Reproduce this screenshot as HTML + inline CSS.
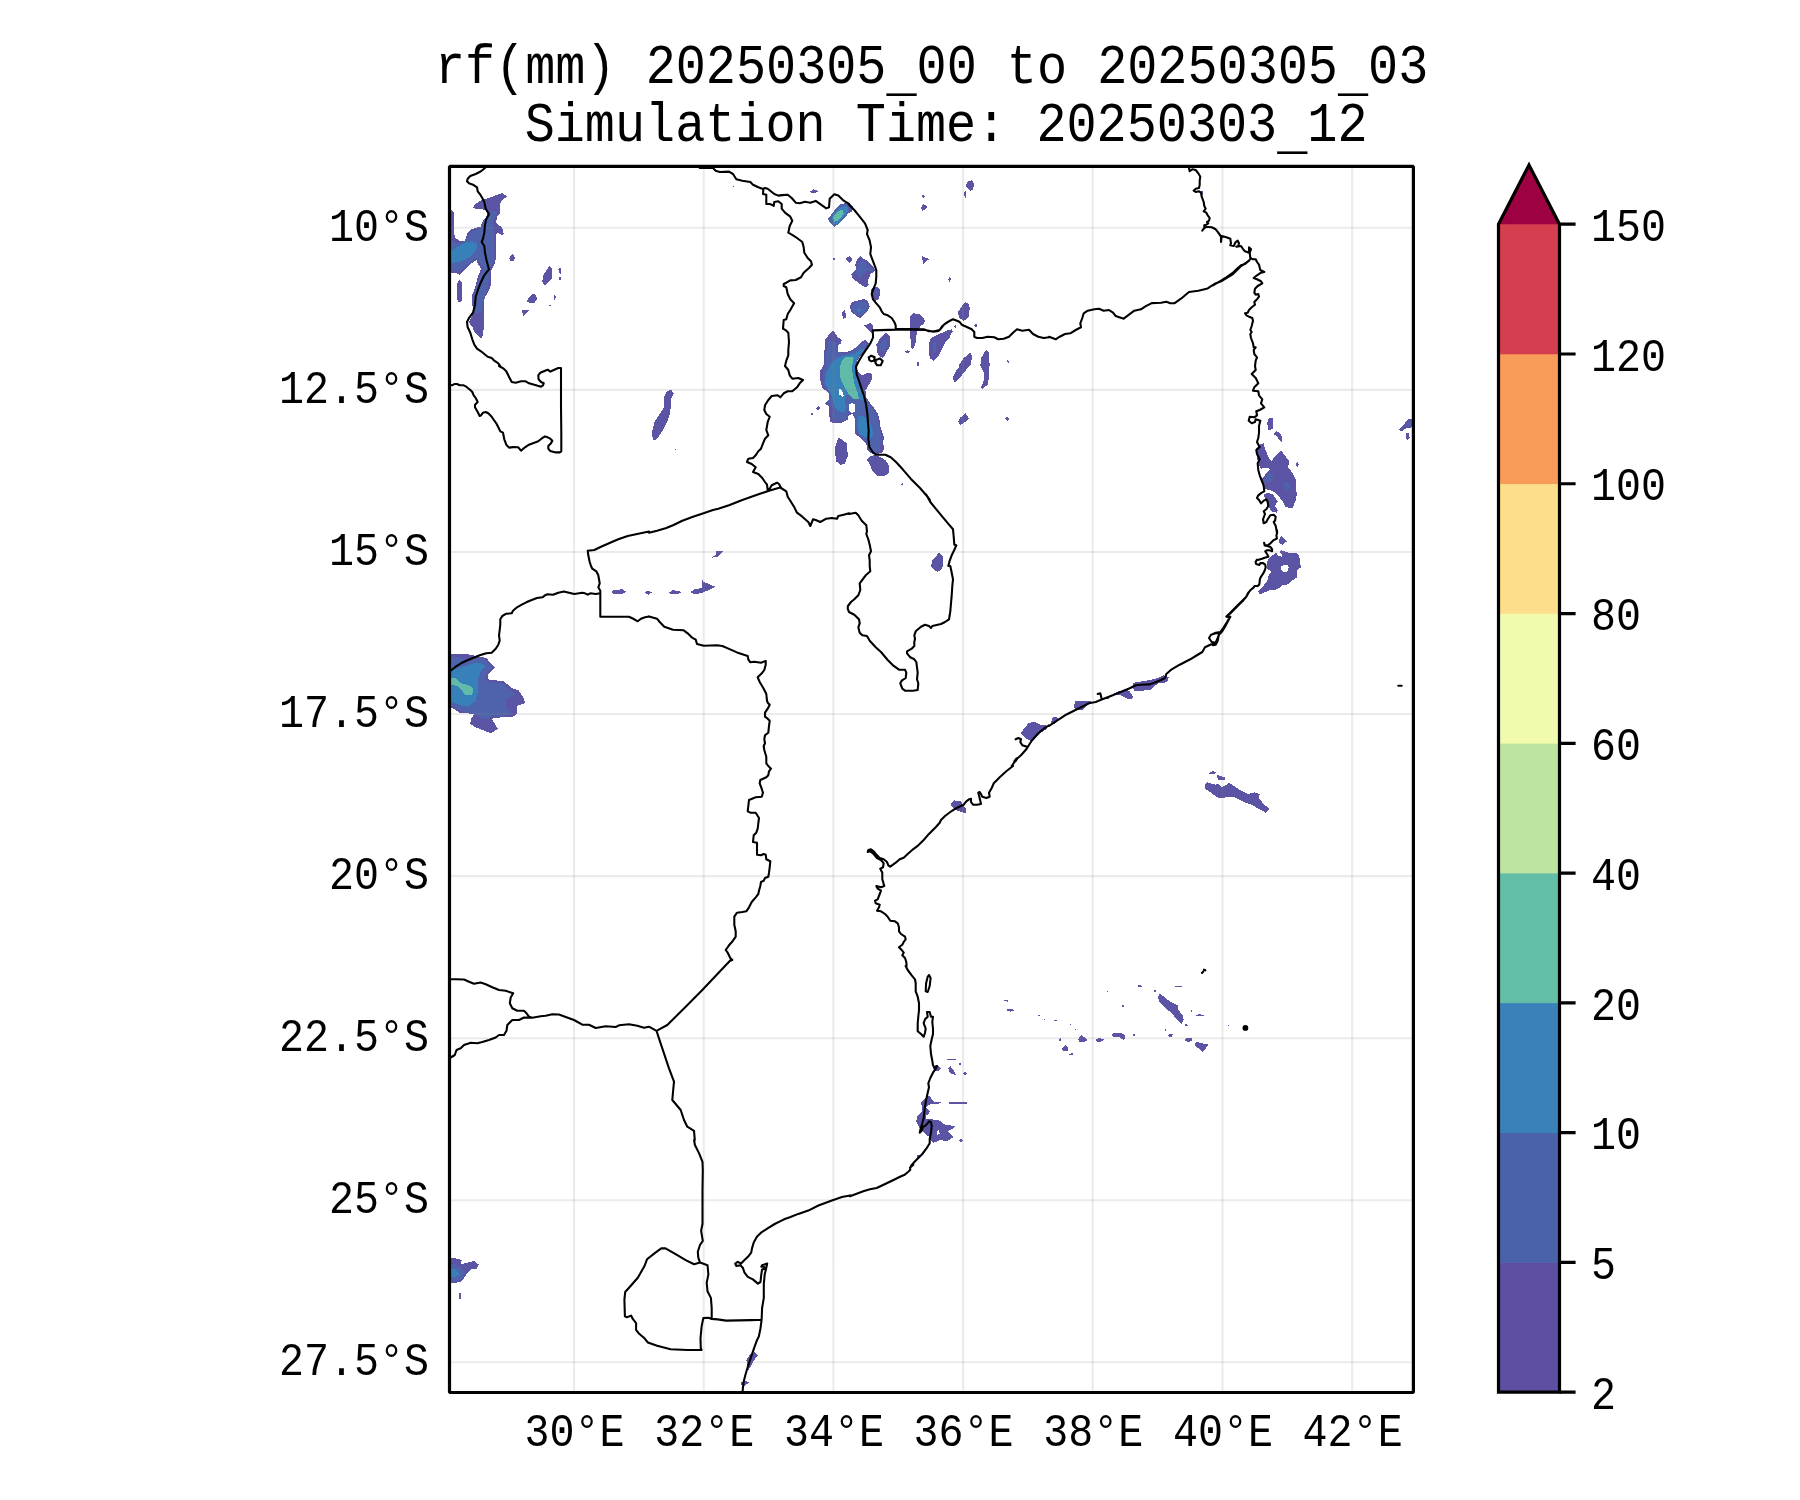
<!DOCTYPE html>
<html><head><meta charset="utf-8"><style>html,body{margin:0;padding:0;background:#fff}svg{display:block}</style></head>
<body><svg width="1800" height="1500" viewBox="0 0 1800 1500">
<rect width="1800" height="1500" fill="#fff"/>
<defs><clipPath id="mc"><rect x="449.5" y="166.4" width="963.9000000000001" height="1226.1"/></clipPath></defs><g clip-path="url(#mc)"><path d="M451.0 210.0 453.7 212.7 453.7 232.7 455.7 238.0 459.7 240.7 465.0 240.7 467.0 234.0 470.3 230.0 475.7 227.6 481.0 227.3 481.7 222.7 484.3 219.3 487.0 216.0 486.3 210.0 482.3 209.3 475.7 209.3 473.0 207.3 475.7 204.0 481.0 200.4 489.0 198.0 497.0 194.7 502.3 193.1 507.0 196.4 501.0 200.9 499.7 206.0 499.7 213.3 496.7 216.7 496.3 223.3 502.3 227.6 503.7 234.0 501.7 235.1 497.0 232.7 495.7 235.3 495.7 259.3 494.1 265.3 490.6 271.3 490.6 286.0 487.7 292.7 484.7 297.3 483.9 306.0 483.9 326.0 483.0 334.7 481.4 338.7 477.7 335.3 473.7 330.7 472.3 326.7 468.7 322.3 471.7 316.7 472.7 312.7 472.3 299.3 471.7 295.3 474.3 290.0 476.3 283.3 477.7 276.7 480.3 271.3 481.0 268.7 478.3 264.7 476.3 260.0 471.7 263.3 466.3 268.7 462.3 272.0 459.7 275.3 457.0 273.3 449.0 272.7 449.0 210.0ZM509.3 258.0 512.3 254.0 515.7 258.0 513.0 261.3 510.3 260.7ZM543.0 275.3 545.7 271.3 549.7 265.3 551.7 268.7 551.7 279.3 547.7 283.3 544.3 285.3 542.3 282.0ZM558.3 268.7 560.7 268.0 560.7 274.0 559.1 272.7ZM559.0 276.7 560.7 277.3 560.7 280.0 559.4 279.6ZM527.0 300.7 529.0 297.3 533.0 293.3 536.3 295.3 536.7 299.3 534.3 303.3 530.3 303.3 527.7 302.0ZM554.1 294.3 555.7 296.0 555.4 299.3 554.3 300.7ZM548.3 305.3 549.7 304.4 551.0 305.6 549.7 306.7ZM522.1 310.3 529.0 310.3 523.0 316.7ZM457.0 283.3 459.7 280.0 462.3 283.3 462.3 299.3 460.3 302.7 457.7 302.0 457.0 294.0ZM810.3 191.3 813.7 189.3 818.3 191.1 814.3 193.3 811.0 192.7ZM833.0 258.3 834.6 258.3 834.6 259.6 833.0 259.6ZM846.1 258.7 849.0 257.3 849.0 261.7 847.7 260.9ZM842.3 312.7 843.9 310.0 845.7 314.0 845.3 318.0 843.0 318.7ZM732.7 185.9 733.8 185.9 733.8 186.9 732.7 186.9ZM910.7 317.3 913.3 313.3 920.0 314.0 924.7 320.0 923.3 324.7 917.3 326.7 916.0 334.7 914.7 345.3 912.7 349.3 910.7 344.0 910.0 326.7ZM905.3 351.3 907.3 350.0 909.6 351.7 907.7 353.6ZM916.9 362.0 918.7 362.0 918.7 366.0 916.9 366.0ZM930.0 342.7 932.0 337.3 937.3 334.7 944.0 332.0 950.0 329.3 950.0 337.3 945.3 342.7 941.3 350.7 938.7 356.0 934.7 360.0 931.3 358.7 929.3 353.3ZM810.9 413.6 812.7 412.4 813.6 414.0 811.7 414.9ZM965.7 185.3 968.3 180.7 972.3 180.4 974.1 184.7 973.0 189.3 970.3 190.7 967.0 188.0ZM964.3 192.7 966.1 190.7 966.3 198.0 964.7 198.7ZM922.1 195.6 923.7 194.7 925.0 196.7 923.0 198.0ZM921.0 207.3 923.7 204.0 927.7 206.7 925.0 210.0 922.3 210.7ZM849.0 203.3 853.0 206.0 852.3 212.0 849.0 212.7ZM922.1 256.0 929.0 259.1 923.0 264.0ZM948.3 279.3 949.7 276.7 951.0 279.3 949.7 282.0ZM910.3 316.7 913.0 313.3 919.7 314.7 924.3 318.7 925.0 322.0 921.0 325.3 917.0 331.3 915.7 342.0 913.0 349.3 911.0 347.3 910.3 332.7ZM876.3 344.7 880.3 338.0 885.7 332.7 889.7 336.7 889.0 347.3 886.3 352.7 882.3 358.0 879.0 355.3 877.0 350.0ZM905.0 351.3 907.7 350.0 909.7 351.6 907.4 353.3ZM929.7 339.3 934.3 336.7 942.3 332.7 951.7 329.3 953.0 331.3 946.3 340.7 942.3 348.7 937.0 356.7 933.7 360.7 929.7 358.0 929.0 350.0ZM957.7 312.7 961.0 307.3 965.0 302.0 969.0 304.0 969.7 308.7 968.3 318.0 963.7 320.7 959.7 318.0ZM954.3 326.0 955.7 324.7 955.9 327.6 954.6 328.0ZM974.3 325.3 975.9 323.3 977.7 326.0 975.9 328.0ZM958.3 366.0 963.7 358.0 970.3 352.7 972.3 356.7 970.3 366.0ZM980.3 366.0 981.0 358.0 986.3 349.3 989.0 352.7 989.7 366.0ZM1006.3 362.0 1007.7 359.3 1009.0 362.7ZM917.0 362.0 919.0 362.0 919.0 366.0 917.0 366.0ZM1201.0 191.3 1202.6 191.3 1202.6 194.7 1201.0 194.7ZM651.7 434.0 654.3 422.0 659.7 414.0 664.3 407.3 664.3 396.7 667.0 391.3 671.0 389.3 673.7 393.3 671.0 399.3 670.3 412.7 667.0 422.0 662.3 431.3 657.0 438.7 653.7 440.7ZM675.0 448.9 676.3 448.9 676.3 450.0 675.0 450.0ZM716.3 551.1 723.0 551.3 719.7 555.3 717.0 556.9 712.3 557.7 712.7 556.4 716.3 554.7ZM952.3 378.0 955.7 371.3 959.7 366.0 969.0 366.0 965.0 371.3 959.7 378.0 955.0 382.7ZM981.0 366.0 989.0 366.0 988.7 379.3 987.7 384.7 985.0 386.7 983.0 388.7 980.3 388.0 982.3 384.7 984.3 379.3 983.7 372.7 981.7 368.7ZM958.3 422.0 959.7 418.0 965.7 413.3 969.0 418.7 965.0 422.0 960.3 425.3ZM1005.0 418.7 1007.0 416.0 1009.0 419.1 1007.4 421.3ZM901.0 484.7 902.6 482.8 903.0 485.7ZM931.0 566.0 932.3 560.7 939.0 552.7 943.0 556.0 943.0 566.0ZM1267.4 422.0 1269.0 418.0 1272.7 418.3 1273.3 428.0 1270.3 430.0 1267.7 429.3ZM1273.7 434.0 1276.3 431.3 1280.3 433.3 1282.3 438.0 1282.3 443.3 1279.7 440.0 1277.0 436.7ZM1255.7 449.3 1259.0 444.7 1263.7 443.3 1265.0 448.7 1268.3 456.7 1271.0 461.3 1275.0 456.7 1281.0 450.0 1283.7 454.0 1289.0 460.7 1288.3 467.3 1293.0 474.0 1295.7 479.3 1295.7 486.0 1296.7 494.0 1296.3 499.3 1293.7 504.7 1293.0 508.0 1285.7 507.3 1282.3 500.7 1279.0 496.7 1275.0 492.7 1270.3 490.0 1265.7 489.3 1263.7 486.0 1262.3 478.7 1266.3 473.3 1270.3 468.7 1265.7 468.0 1261.0 468.7 1259.0 464.7 1257.0 458.0 1257.0 452.7ZM1295.9 463.3 1297.3 461.7 1299.0 464.7 1297.0 467.3ZM1263.7 494.7 1268.3 492.7 1273.0 494.7 1277.7 501.3 1275.0 506.0 1277.7 510.0 1277.0 512.7 1271.7 511.3 1269.0 507.3 1268.3 503.3 1265.7 500.0ZM1399.0 430.0 1403.7 424.7 1407.7 419.3 1413.0 419.3 1413.0 427.3 1406.3 428.0 1402.3 431.3ZM1405.7 434.0 1408.3 432.0 1409.7 438.0 1407.7 440.0 1406.1 438.7ZM611.0 592.0 614.3 590.0 622.3 589.3 625.7 591.6 622.3 594.3 614.3 594.3ZM644.3 592.0 649.0 590.7 649.0 594.7 646.3 594.0ZM449.0 654.0 466.3 654.0 486.3 658.0 495.0 668.0 487.7 675.3 487.7 679.3 503.7 681.3 513.0 688.7 518.3 690.0 523.7 698.0 525.0 703.3 517.0 706.0 517.0 714.0 513.0 716.7 501.0 717.3 491.7 718.7 497.7 728.7 493.0 732.4 489.0 732.7 475.7 727.3 470.3 724.0 471.0 718.7 474.3 714.0 459.7 712.7 449.0 706.0ZM649.0 591.3 652.3 592.4 649.0 594.0ZM669.0 592.7 672.3 590.3 677.7 590.7 681.7 592.0 677.7 594.0 670.3 594.3ZM690.3 592.0 694.3 589.3 701.7 588.0 702.3 579.3 703.7 582.0 707.7 583.3 715.0 586.7 709.0 590.0 702.3 592.7 697.0 594.0 691.7 593.3ZM931.0 566.0 943.0 566.0 941.7 569.3 937.7 572.0 933.7 569.3ZM1020.3 733.3 1028.3 723.3 1033.7 721.7 1041.0 724.9 1046.3 725.3 1047.7 728.0 1041.0 732.7 1035.7 738.0 1030.3 740.7 1025.0 738.0ZM1051.0 722.0 1053.0 716.7 1056.3 716.7 1058.3 719.3 1055.7 723.3 1051.7 724.7ZM1073.7 708.0 1075.0 701.3 1081.0 701.3 1089.0 700.7 1093.7 702.7 1089.0 704.0 1085.7 707.3 1082.3 710.0 1077.0 710.0ZM1103.7 698.0 1107.7 696.7 1109.0 698.7 1105.0 699.3ZM1113.0 694.0 1118.3 691.3 1123.7 690.0 1129.0 690.7 1131.7 694.0 1133.7 698.0 1129.0 699.3 1125.0 697.3 1121.0 695.3ZM1132.3 686.0 1133.7 682.7 1142.3 681.3 1153.0 679.3 1158.3 678.0 1163.7 675.3 1169.0 677.3 1167.0 682.0 1163.7 682.7 1158.3 683.3 1154.3 686.0 1150.3 690.0 1142.3 690.7 1134.3 691.3ZM1279.1 539.6 1281.5 535.9 1286.8 541.5 1282.0 544.9 1279.1 542.3ZM1258.0 591.9 1264.1 584.9 1267.3 581.2 1268.1 576.4 1271.6 571.6 1267.3 568.9 1266.8 564.1 1267.3 560.9 1270.5 557.2 1275.9 552.4 1278.5 556.1 1281.7 556.7 1282.0 554.5 1279.6 551.3 1281.2 550.3 1288.7 552.9 1296.7 553.5 1299.3 556.1 1299.9 562.0 1300.9 567.3 1297.2 570.5 1296.7 575.3 1297.7 576.9 1294.0 579.1 1287.6 584.4 1282.3 585.5 1278.0 588.7 1275.9 589.7 1270.0 590.3 1264.7 592.4 1260.4 594.5ZM950.3 804.0 954.3 800.4 961.0 801.3 963.0 804.7 966.3 808.7 965.7 813.3 961.7 812.0 955.7 810.0 952.3 807.3ZM1205.0 784.0 1207.0 782.0 1211.7 784.0 1215.7 784.7 1218.3 784.0 1221.7 787.3 1225.7 785.3 1229.0 782.9 1234.3 786.0 1241.0 790.7 1247.7 794.0 1254.3 792.3 1259.7 794.0 1259.0 798.7 1265.0 805.3 1269.7 808.7 1265.7 812.7 1259.7 809.3 1250.3 804.0 1245.0 802.7 1239.7 800.0 1234.3 797.3 1229.0 797.1 1223.7 797.6 1217.7 797.6 1211.7 793.3 1205.0 788.7ZM1209.0 773.3 1213.0 770.9 1216.3 772.7 1213.7 774.4 1210.3 774.4ZM1217.0 774.7 1221.0 776.0 1225.0 777.7 1225.0 779.7 1217.7 779.7ZM1003.7 1000.0 1008.3 1000.4 1007.7 1001.7 1003.9 1000.9ZM1006.3 1010.0 1008.3 1008.7 1012.3 1008.9 1013.7 1010.7 1011.0 1011.6 1007.7 1011.3ZM1038.1 1015.1 1039.9 1015.1 1039.9 1016.1 1038.1 1016.1ZM1043.7 1019.3 1045.7 1019.6 1045.0 1020.9ZM947.0 1058.7 955.7 1058.7 955.7 1060.0 950.3 1060.1 947.7 1059.9ZM959.0 1063.3 960.7 1063.3 960.7 1064.9 959.0 1064.9ZM948.3 1068.7 950.3 1066.0 954.3 1071.3 955.7 1074.7 951.7 1074.3 949.0 1071.3ZM963.0 1073.7 965.0 1072.0 967.0 1074.0 965.3 1075.6ZM933.0 1067.3 937.0 1064.7 941.0 1068.7 938.3 1070.7 934.3 1071.3ZM921.0 1102.0 925.0 1098.0 929.0 1095.3 933.0 1100.7 934.3 1102.0 941.0 1102.0 941.0 1103.3 934.3 1104.0 929.0 1104.7 926.3 1107.3 929.7 1111.3 929.0 1114.0 925.7 1115.3 926.3 1119.3 931.7 1119.3 939.7 1120.7 945.0 1124.7 955.0 1126.0 954.3 1128.0 947.7 1131.3 950.3 1134.0 953.7 1136.7 950.3 1139.3 947.0 1141.3 943.7 1140.7 941.0 1139.3 937.0 1141.3 933.7 1142.7 931.0 1140.7 929.0 1136.7 923.7 1132.7 919.7 1128.7 916.3 1122.0 917.0 1116.7 919.7 1114.0 922.3 1111.3 921.7 1106.0ZM949.0 1102.0 967.0 1102.0 967.0 1104.0 949.0 1104.0ZM959.0 1140.0 961.0 1139.1 963.7 1140.9 960.3 1142.0ZM917.0 1155.3 919.4 1154.7 919.7 1157.7 917.3 1158.0ZM1054.2 1020.0 1056.7 1020.0 1056.7 1021.0 1054.2 1021.0ZM1070.0 1024.2 1071.7 1024.7 1071.3 1025.8ZM1075.0 1029.3 1076.7 1029.7 1076.3 1031.0ZM1059.2 1038.7 1060.8 1038.3 1060.7 1040.8 1059.3 1040.7ZM1061.7 1049.2 1065.8 1044.2 1068.0 1048.3 1067.5 1051.3 1063.3 1050.8ZM1069.2 1053.7 1072.5 1053.3 1072.5 1055.3 1069.7 1055.3ZM1078.0 1039.2 1081.3 1035.3 1085.0 1037.5 1088.0 1040.0 1085.0 1041.7 1079.2 1041.7ZM1095.3 1040.0 1098.3 1038.3 1103.3 1038.7 1104.0 1040.3 1100.0 1041.7 1096.7 1041.7ZM1111.0 1035.0 1113.3 1033.0 1121.7 1033.3 1125.0 1035.0 1124.2 1040.8 1120.0 1037.5 1113.3 1037.0ZM1133.0 1034.2 1135.0 1034.2 1135.0 1035.8 1133.0 1035.8ZM1106.7 990.8 1108.3 990.8 1108.3 991.8 1106.7 991.8ZM1121.7 1005.0 1124.0 1005.0 1124.0 1006.8 1121.7 1006.8ZM1138.0 985.5 1140.3 985.0 1142.0 986.7 1138.3 986.7ZM1154.2 990.0 1156.0 990.0 1156.0 991.7 1154.2 991.7ZM1175.0 985.8 1182.0 985.8 1182.0 986.8 1175.0 986.8ZM1158.0 996.7 1160.0 993.3 1166.7 999.2 1173.3 1003.3 1177.5 1005.0 1178.3 1010.0 1182.5 1015.0 1183.7 1020.0 1181.7 1023.7 1176.7 1019.2 1171.7 1013.3 1165.0 1007.5 1159.2 1001.7ZM1184.2 1025.0 1186.3 1023.8 1188.3 1025.8 1185.3 1026.3ZM1190.8 1009.2 1192.5 1010.0 1192.3 1012.0 1191.0 1011.3ZM1195.8 1015.3 1199.2 1014.2 1204.7 1015.0 1203.3 1016.3 1197.5 1016.3ZM1165.0 1029.3 1166.2 1029.3 1166.2 1031.0 1165.0 1031.0ZM1168.0 1035.0 1170.0 1033.3 1173.0 1034.7 1171.7 1036.7 1169.0 1036.7ZM1184.2 1040.0 1186.7 1037.5 1191.7 1038.3 1193.0 1040.3 1189.2 1041.7 1185.0 1041.3ZM1194.2 1045.0 1196.7 1042.0 1201.7 1043.3 1208.7 1044.2 1205.8 1048.3 1202.5 1051.7 1198.3 1048.3ZM1228.0 1024.3 1229.7 1025.0 1228.7 1026.0ZM746.2 1360.1 750.4 1354.2 754.6 1352.0 757.9 1355.1 752.9 1361.8 749.5 1368.5 749.2 1373.5 747.8 1366.8 747.0 1363.5ZM740.3 1382.8 744.5 1380.6 749.5 1382.8 744.5 1385.6 741.1 1385.3ZM917.0 1155.3 919.7 1155.2 918.7 1158.0 917.2 1157.7ZM449.0 1257.6 455.7 1258.4 461.6 1260.1 460.8 1264.3 467.5 1262.6 474.2 1261.0 478.9 1264.7 476.7 1268.5 470.8 1269.4 467.5 1272.7 464.1 1277.8 460.8 1282.0 454.0 1282.8 449.0 1282.8ZM459.1 1293.2 460.8 1293.2 460.8 1298.8 459.1 1298.8ZM833.2 330.5 837.4 336.5 841.6 340.3 841.1 343.1 837.9 345.9 837.9 351.9 847.7 351.9 854.2 348.7 859.8 344.0 864.9 339.3 868.7 343.1 867.3 347.7 863.5 352.4 859.8 357.1 857.0 360.8 856.1 367.3 857.9 371.1 861.7 375.7 867.3 372.9 871.0 372.5 872.4 376.7 871.0 381.3 868.2 386.0 865.4 390.7 866.3 397.2 869.1 401.9 872.9 406.5 877.5 413.1 879.4 418.7 880.3 426.1 882.2 432.7 884.1 437.4 883.1 442.0 884.1 448.6 882.2 452.3 880.3 453.2 875.7 454.2 871.0 453.2 867.3 449.5 866.3 443.9 859.8 437.4 855.1 433.6 855.1 425.2 855.1 418.7 852.3 414.0 848.6 415.9 847.7 419.6 843.0 422.4 833.7 423.3 829.9 421.5 829.0 412.1 829.0 406.5 825.3 403.7 829.0 399.1 829.0 393.5 822.5 387.9 820.6 383.2 820.1 371.1 824.3 363.6 824.3 353.3 825.3 339.3 829.9 333.7ZM877.1 346.8 880.3 341.2 885.9 332.8 889.7 336.5 889.7 346.8 886.9 351.5 884.1 357.1 880.3 357.1 877.5 353.3ZM835.1 447.6 838.3 437.4 843.0 440.2 847.2 443.9 847.7 456.0 844.9 463.5 840.2 464.9 836.5 461.6 835.1 454.2ZM866.3 459.8 870.1 456.0 874.7 455.1 880.3 457.0 885.9 460.7 888.7 465.4 888.7 470.0 874.7 470.0 871.0 465.4ZM815.9 408.4 818.3 406.1 820.6 408.4 818.3 410.7ZM851.3 274.3 856.0 269.3 855.3 264.7 857.3 259.3 860.3 256.0 864.0 259.0 866.7 260.0 870.7 264.0 873.3 266.7 875.3 270.0 873.3 272.0 870.7 274.0 869.3 277.3 868.0 280.0 868.7 285.3 865.3 287.3 860.0 284.0 854.7 280.0 852.0 277.3ZM871.3 289.3 874.0 286.7 876.7 286.7 879.7 289.3 879.7 295.3 878.7 298.7 876.0 300.7 873.3 300.0 871.7 295.3ZM850.0 305.3 852.7 302.0 856.7 300.7 860.0 300.0 864.7 299.0 868.0 301.3 869.7 306.0 868.0 310.7 864.0 314.7 860.0 318.7 856.0 315.3 851.3 312.0 850.3 308.7ZM846.0 258.7 849.3 256.0 852.0 258.0 851.7 260.7 849.3 262.7 846.7 260.0ZM842.0 315.3 843.3 311.3 844.7 310.0 846.0 314.7 845.7 318.0 843.7 318.7ZM833.0 258.3 835.0 258.3 835.0 259.9 833.0 259.9ZM864.0 325.7 870.0 323.0 872.7 325.3 873.0 329.3 871.7 333.3 868.0 329.3ZM870.0 465.0 889.0 465.0 889.0 473.0 884.0 476.5 877.0 476.0 872.0 470.0Z" fill="#5b53a4" shape-rendering="crispEdges"/><path d="M1280.9 566.8 1283.3 564.9 1287.6 565.2 1288.9 567.3 1287.1 571.6 1283.3 571.9 1281.2 569.5ZM937.0 1130.7 939.0 1130.3 939.7 1134.3 937.3 1134.7Z" fill="#fff" shape-rendering="crispEdges"/><path d="M449.0 238.7 457.0 243.3 463.7 242.0 467.7 236.7 471.7 231.3 481.0 228.7 483.7 222.0 487.0 215.3 489.7 211.3 495.0 210.7 497.0 212.7 495.0 217.3 493.0 222.0 493.7 228.7 493.7 246.0 493.7 259.3 491.7 266.0 489.0 271.3 488.3 286.0 485.7 294.0 483.0 299.3 482.3 307.3 481.7 312.7 475.7 314.0 473.7 310.0 474.3 299.3 475.7 292.7 477.7 283.3 479.7 276.7 482.3 272.7 484.3 268.7 481.0 264.7 477.7 259.3 475.7 258.0 470.3 263.3 465.0 267.3 459.7 271.3 449.0 270.0ZM828.3 218.7 835.7 208.7 839.7 204.7 845.0 203.1 849.0 204.7 849.0 212.7 842.3 220.7 834.3 227.3 829.0 222.0ZM933.3 344.7 935.3 344.0 936.0 349.3 934.0 350.7ZM879.7 344.7 882.3 340.7 886.3 339.3 887.0 346.0 884.3 351.3 881.0 351.3ZM932.3 343.3 935.7 342.0 936.3 351.3 933.0 354.0ZM1264.3 480.7 1269.0 472.7 1273.7 475.3 1271.7 482.0 1267.0 482.7ZM1283.0 484.7 1287.0 481.3 1290.3 486.0 1288.3 490.7 1285.0 491.3ZM1408.3 422.7 1412.3 422.0 1412.3 426.0 1409.0 426.0ZM449.0 658.0 457.0 656.7 465.0 659.3 483.7 658.0 491.7 666.7 487.0 672.7 485.0 679.3 489.0 682.0 502.3 683.3 511.7 691.3 515.7 694.0 506.3 699.3 506.3 707.3 511.7 714.0 499.7 716.7 491.7 716.0 485.0 719.3 479.7 718.0 475.7 714.0 462.3 711.3 449.0 704.7ZM1289.2 556.4 1292.9 556.1 1292.9 557.7 1289.2 557.7ZM449.0 1263.5 455.7 1264.3 460.8 1267.7 465.0 1272.7 461.6 1279.4 454.0 1281.1 449.0 1282.0ZM829.0 340.3 835.5 342.1 837.4 351.5 841.1 353.3 845.8 354.3 852.3 351.5 859.8 345.9 865.4 342.1 867.3 344.9 864.5 348.7 860.7 354.3 857.0 358.9 855.1 362.7 855.1 369.2 857.9 374.8 859.8 380.4 861.7 387.9 865.4 395.3 867.3 400.9 871.0 406.5 874.7 412.1 877.5 418.7 879.4 428.0 881.3 437.4 880.3 444.8 880.3 450.4 875.7 452.3 871.0 451.4 868.2 446.7 866.3 442.0 858.9 434.6 856.1 428.9 856.1 419.6 854.2 414.0 850.5 412.1 847.7 414.0 845.8 418.7 843.0 420.5 835.5 421.0 832.7 419.6 831.8 414.0 833.7 410.3 829.9 404.7 828.1 400.9 831.3 395.3 829.9 390.7 824.3 386.0 822.5 381.3 822.5 372.0 825.3 365.5 826.2 353.3 828.1 344.0ZM879.4 346.8 882.2 344.0 885.0 345.9 884.1 350.5 881.3 351.5ZM869.1 458.8 871.0 457.7 872.9 459.3 871.0 460.7ZM856.0 271.3 857.3 265.3 860.0 260.7 864.0 261.3 866.7 264.0 866.7 268.0 870.7 268.0 874.0 269.3 872.7 271.3 866.7 270.7 864.0 274.0 861.3 278.0 859.3 278.7 856.7 275.3ZM875.3 290.7 876.7 290.3 877.2 295.3 875.7 295.7ZM852.0 306.7 855.3 302.7 861.3 301.3 866.7 302.7 868.0 306.0 866.0 310.7 861.3 314.7 858.7 316.0 853.3 312.0Z" fill="#4e63ac" shape-rendering="crispEdges"/><path d="M849.1 404.7 852.3 402.8 855.1 404.7 855.1 411.2 852.3 413.1 849.5 411.2Z" fill="#fff" shape-rendering="crispEdges"/><path d="M449.0 252.7 454.3 248.7 461.0 244.7 467.7 242.0 473.0 241.3 477.0 244.7 476.3 250.0 471.7 255.3 466.3 259.3 459.7 262.0 453.0 262.7 449.0 262.0ZM831.7 216.7 838.3 208.7 845.0 206.0 848.3 207.3 848.3 211.3 838.3 223.3 833.7 224.7ZM449.0 671.3 461.0 667.3 469.0 664.7 475.7 662.7 483.7 664.0 485.0 667.3 481.0 670.0 479.7 675.3 477.7 680.7 477.7 692.7 475.7 700.7 469.0 706.0 462.3 706.0 455.7 703.3 449.0 700.7ZM449.0 1267.7 455.7 1269.4 459.9 1274.4 455.7 1276.9 449.0 1277.8ZM825.3 378.5 827.1 371.1 832.7 361.7 838.3 357.1 845.8 355.2 854.2 353.8 859.8 350.1 863.1 348.2 864.0 350.1 859.8 355.2 857.0 359.9 855.1 365.5 855.6 371.1 857.5 376.7 859.8 384.1 862.6 391.6 864.5 399.1 862.6 400.9 858.9 399.1 854.2 397.2 849.5 395.3 845.8 394.4 844.9 400.9 845.8 407.5 844.9 412.1 841.1 412.1 836.5 409.3 833.7 404.7 832.7 399.1 830.9 394.4 827.1 387.9 825.3 383.2ZM857.9 417.7 860.7 415.9 865.4 416.8 869.1 421.5 871.9 427.1 873.3 433.6 871.0 437.4 867.3 438.3 863.5 436.4 859.8 434.6 857.9 428.9 857.5 423.3ZM856.7 310.0 860.0 308.0 860.7 310.7 858.0 312.0Z" fill="#3880b9" shape-rendering="crispEdges"/><path d="M838.8 389.7 840.7 388.8 843.9 395.3 843.0 397.2 839.3 394.4Z" fill="#fff" shape-rendering="crispEdges"/><path d="M833.0 217.3 838.3 210.7 843.0 210.0 843.7 214.0 838.3 220.7 834.3 221.7ZM449.0 678.0 455.7 678.0 461.0 683.3 466.3 684.7 471.0 686.0 473.7 690.0 471.7 694.7 465.0 695.3 462.3 690.7 457.0 686.0 453.0 684.7 449.0 686.0ZM840.2 365.5 842.1 359.9 846.7 356.6 852.3 356.6 853.7 358.0 852.3 365.5 852.3 372.0 853.3 378.5 855.1 386.0 857.9 393.5 858.9 398.6 853.3 398.6 849.5 395.3 846.7 390.7 843.0 384.1 840.2 377.6Z" fill="#60bba8" shape-rendering="crispEdges"/><path d="M574.05 166.4V1392.5M703.73 166.4V1392.5M833.41 166.4V1392.5M963.09 166.4V1392.5M1092.77 166.4V1392.5M1222.45 166.4V1392.5M1352.13 166.4V1392.5" stroke="#808080" stroke-opacity="0.16" stroke-width="2.08" fill="none"/><path d="M449.5 227.80H1413.4M449.5 389.88H1413.4M449.5 551.95H1413.4M449.5 714.02H1413.4M449.5 876.10H1413.4M449.5 1038.17H1413.4M449.5 1200.25H1413.4M449.5 1362.32H1413.4" stroke="#808080" stroke-opacity="0.16" stroke-width="2.08" fill="none"/><path d="M485.0 168.0 481.0 171.3 475.7 174.0 470.3 176.0 467.7 178.7 467.0 181.3 469.0 183.3 473.0 184.7 477.0 187.3 477.7 191.3 480.3 194.7 482.3 198.0 484.3 202.0 485.7 208.7 489.0 214.0 486.3 219.3 485.0 224.7 484.3 232.7 483.0 238.7 481.7 242.0 484.3 246.0 485.0 252.7 486.3 259.3 487.7 264.7 489.0 269.3 486.3 272.7 484.3 275.3 481.0 282.0 478.3 288.7 475.7 296.7 475.0 304.7 473.0 312.7 469.0 318.0 467.0 322.0 467.7 327.3 470.3 332.7 472.3 339.3 474.3 344.7 477.0 348.7 481.0 351.3 484.3 354.0 487.7 356.7 491.7 358.0 494.3 360.7 498.3 363.3 500.3 366.0M699.7 168.0 703.7 167.6 713.0 168.0 715.7 170.7 719.7 172.0 729.0 171.6 733.0 174.0 736.3 179.3 742.3 180.7 750.3 182.0 753.0 184.7 758.3 187.3 763.0 188.9 765.0 188.0 767.7 188.7 774.3 194.0 778.3 195.6 782.3 195.1 787.7 194.7 791.7 198.0 795.7 202.7 799.7 203.3 805.0 201.7 810.3 202.7 815.7 200.9 821.0 204.7 826.3 208.4 829.0 207.3 829.7 198.7 834.3 194.3 838.3 195.6 843.7 200.7 849.0 204.0M763.4 188.9 763.0 194.0 766.3 194.7 766.3 204.0 769.7 204.0 771.7 204.7 773.7 206.0 774.3 202.0 778.3 201.3 781.7 204.0 781.7 208.7 785.0 212.7 790.3 216.7 792.3 220.7 789.7 226.0 788.3 232.7 793.0 235.3 797.0 238.0 802.3 242.0 803.7 247.3 804.3 252.7 807.7 258.0 811.0 261.3 811.9 264.7 809.0 268.0 803.7 272.7 801.0 277.3 795.7 280.0 790.3 280.4 786.3 282.7 783.7 284.0 783.7 286.0 786.3 287.3 787.7 294.0 790.3 299.3 794.1 303.3 790.3 310.0 787.7 314.0 786.3 319.3 783.7 320.0 783.0 328.7 786.3 330.7 788.3 332.7 789.0 342.0 788.3 350.0 788.3 355.3 786.3 360.7 785.0 366.0M872.7 330.4 896.0 329.6 913.3 329.6 925.3 330.0 933.3 331.7 938.7 330.9 941.3 328.0 944.0 324.7 946.7 322.7 950.0 320.7M872.7 330.4 873.1 337.3 870.7 342.7 867.3 348.0 862.7 354.7 858.7 361.3 856.0 366.7 856.7 374.7 858.7 380.0 861.3 388.0 864.0 396.0 866.0 404.0 867.3 413.3 868.0 422.7 868.7 430.7 868.3 438.7 869.3 446.7 872.7 452.0 876.0 454.7 885.3 454.7 890.7 457.3 896.0 462.0 902.7 469.3 910.7 478.7 920.0 488.0 928.0 497.3 930.0 500.0M868.7 357.3 871.3 355.7 874.7 357.3 874.0 360.7 871.3 361.3 869.3 360.0 868.7 357.3M876.0 360.0 880.0 358.4 882.7 361.1 880.7 365.3 877.1 365.3 875.3 362.7 876.0 360.0M849.0 204.7 854.3 210.0 859.7 216.7 865.0 223.3 867.7 230.0 867.0 234.0 869.7 240.7 871.0 247.3 870.3 254.0 872.3 259.3 874.3 264.7 876.3 270.0 876.3 276.7 875.7 283.3 873.0 290.0 871.7 294.0 873.0 299.3 876.3 303.3 879.7 307.3 881.7 311.3 883.7 314.0 887.7 315.3 891.7 318.0 894.3 322.0 895.7 325.3 895.7 328.9M895.7 328.9 923.7 329.3 929.0 331.3 934.3 331.3 939.7 330.0 942.3 326.0 945.0 324.0 949.0 321.3 953.0 319.3 957.0 320.7 959.7 322.0 961.7 324.7 966.3 326.7 971.7 329.3 974.3 332.0 974.3 336.7 977.0 338.0 982.3 338.0 987.7 336.7 994.3 337.3 998.3 339.3 1003.7 338.7 1009.0 336.7 1013.0 332.7 1017.0 329.3 1022.3 330.7 1029.0 329.7 1033.0 334.0 1038.3 336.7 1043.7 338.0 1049.0 337.3M1189.0 168.0 1189.7 171.3 1192.3 169.3 1195.7 170.0 1198.3 173.3 1200.3 176.7 1199.7 180.7 1199.7 184.7 1199.0 188.0 1195.7 188.7 1193.7 190.7 1195.7 192.0 1199.0 191.3 1201.0 192.7 1201.7 196.7 1203.7 202.0 1204.3 206.0 1205.7 208.7 1203.7 211.3 1206.3 212.7 1207.7 215.3 1209.7 218.0 1209.0 220.7 1207.0 222.0 1208.3 223.3 1206.3 224.7 1204.3 225.3 1204.3 228.0 1202.3 230.7 1203.7 228.7 1206.3 226.7 1211.7 227.3 1215.7 229.3 1218.3 232.7 1221.0 236.7 1221.0 242.0 1221.7 236.0 1226.3 237.3 1230.3 238.7 1231.0 243.3 1230.3 245.3 1233.7 246.0 1235.7 242.0 1237.7 240.7 1239.0 243.3 1238.3 246.0 1236.3 246.7 1241.0 246.0 1243.7 250.0 1245.0 251.3 1249.0 252.7M1049.0 336.7 1055.7 339.3 1059.7 336.7 1065.0 334.0 1070.3 333.3 1075.7 330.0 1081.0 327.3 1080.3 323.3 1082.3 318.0 1083.7 313.3 1087.7 310.7 1094.3 309.3 1099.0 308.7 1103.7 310.7 1109.0 310.0 1113.0 312.7 1115.7 316.0 1123.7 318.7 1129.0 314.7 1134.3 310.7 1141.0 309.3 1145.0 306.7 1151.7 303.1 1161.0 302.7 1166.3 301.7 1170.3 303.3 1174.3 303.3 1181.0 298.7 1189.0 292.0 1198.3 290.7 1207.7 288.4 1214.3 284.0 1222.3 280.7 1233.0 274.0 1238.3 268.7 1241.0 266.0 1246.3 262.7 1249.0 260.7M1249.0 252.0 1249.0 247.3 1251.0 249.3 1249.7 252.7 1250.3 258.0 1253.0 259.3 1255.7 259.3 1257.0 262.0 1259.0 264.7 1260.3 270.0 1264.3 272.0 1261.0 272.7 1257.0 275.3 1253.7 278.0 1257.0 279.3 1261.0 281.3 1262.3 283.3 1257.7 286.0 1255.0 288.7 1254.3 292.7 1255.7 294.7 1258.3 294.0 1259.0 296.7 1257.0 299.3 1254.3 302.0 1255.0 304.7 1251.7 307.3 1249.0 310.0 1247.7 312.7 1245.0 313.3 1246.3 315.3 1249.0 316.7 1252.3 318.0 1253.0 320.7 1251.7 326.0 1250.3 330.0 1251.7 332.0 1250.3 334.0 1251.0 338.0 1253.0 343.3 1253.7 347.3 1255.7 347.3 1253.7 350.0 1254.3 354.0 1257.0 357.3 1255.7 360.7 1255.0 366.0M1213.0 285.3 1221.0 280.7 1226.3 277.3 1233.0 272.7 1237.0 268.7 1241.0 265.3 1245.0 264.0 1249.0 260.7 1251.0 258.0M499.0 366.0 503.7 368.7 506.3 371.3 509.0 376.7 511.7 382.0 515.7 382.7 521.0 381.3 525.7 381.3 529.0 383.3 534.3 384.7 541.0 386.7 543.0 385.3 543.7 383.3 541.0 382.0 538.6 379.3 538.3 375.3 540.3 372.7 545.0 370.7 547.7 369.7 550.3 371.6 554.3 369.7 558.3 368.0 561.0 368.0 561.0 379.3 561.0 406.0 561.3 432.7 561.3 451.3 559.7 452.4 555.7 452.4 550.3 451.1 548.3 448.7 548.3 446.0 551.0 443.3 552.3 440.7 550.3 438.7 547.7 437.3 545.0 436.4 542.3 438.0 538.3 441.3 534.3 442.7 529.0 444.7 525.0 447.3 521.0 450.7 518.3 447.3 513.0 447.1 509.0 447.6 506.3 444.7 504.3 439.3 503.0 432.7 500.3 431.3 498.3 427.3 496.3 423.3 494.3 420.7 491.7 416.7 488.3 413.3 485.7 412.0 483.0 412.7 481.0 415.3 479.7 416.0 477.7 412.0 475.0 407.3 475.0 404.7 477.7 402.0 475.7 398.0 473.7 395.3 472.3 392.0 470.3 390.0 466.3 386.7 463.7 385.3 459.7 385.3 457.0 384.0 454.3 384.0 452.3 385.3 449.0 384.7M587.7 550.7 594.3 550.0 601.0 546.7 609.0 543.3 618.3 539.3 627.7 536.0 638.3 533.7 649.0 531.6M587.7 550.7 588.3 555.3 589.7 562.0 591.0 566.0M785.0 366.0 788.3 370.0 789.7 375.3 792.3 378.7 798.3 378.0 803.0 380.0 799.7 383.3 797.0 387.3 792.3 391.3 787.7 391.3 783.7 393.3 780.3 397.3 777.7 395.3 771.7 396.0 768.3 400.0 765.0 405.3 764.3 410.0 766.3 414.0 769.7 416.7 767.7 422.0 766.3 430.0 768.3 435.3 765.0 438.7 763.0 443.3 761.0 448.7 758.3 451.3 755.7 455.3 753.0 458.0 748.3 458.7 747.0 462.0 751.7 464.0 755.7 467.3 753.0 472.0 758.3 474.0 762.3 478.0 765.0 482.0 767.0 484.7 767.7 490.0 769.7 488.7 771.7 485.3 777.0 482.7 779.0 484.0 781.0 488.0 786.3 491.3 787.7 496.7 790.3 500.7 794.3 507.3 797.0 512.7 802.3 516.7 808.3 522.0 810.3 526.0 813.0 519.3 815.7 520.0 820.3 522.0 826.3 518.7 831.7 518.0 837.0 518.7 838.3 516.0 843.7 514.7 849.0 513.3M649.0 532.7 657.0 530.7 666.3 528.0 673.0 525.3 682.3 520.7 693.0 516.7 705.0 512.7 713.0 510.0 718.3 508.7 729.0 505.3 742.3 500.0 755.7 495.3 769.0 490.7 781.0 487.3M926.3 494.7 930.3 502.0 935.7 508.7 942.3 516.7 949.0 524.7 953.0 529.3 953.7 536.7 954.3 544.7 956.3 545.3 954.3 550.0 951.7 555.3 949.7 560.7 948.3 566.0M849.0 514.0 855.7 512.7 858.3 515.3 861.7 520.7 866.3 525.3 867.0 531.3 866.3 534.0 868.3 539.3 869.7 544.7 871.0 551.3 869.0 555.3 869.7 560.7 869.7 566.0M1255.0 366.0 1255.7 370.0 1251.7 374.0 1255.7 378.0 1258.3 383.3 1254.3 387.3 1253.0 390.7 1258.3 391.3 1259.0 395.3 1262.3 399.3 1261.0 403.3 1264.3 407.3 1259.7 410.0 1256.3 411.3 1257.0 415.3 1254.3 417.3 1249.7 416.7 1248.7 420.7 1251.7 423.3 1255.0 422.0 1255.7 419.3 1260.3 420.7 1259.0 426.0 1259.0 432.7 1258.3 438.0 1257.0 442.0 1259.7 447.3 1256.3 450.0 1257.0 454.0 1259.7 459.3 1257.7 463.3 1258.3 470.0 1259.7 475.3 1262.3 482.0 1263.7 486.0 1264.3 491.3 1261.7 492.7 1258.3 495.3 1257.0 498.0 1259.0 500.0 1261.0 503.3 1263.7 500.7 1266.3 499.3 1267.7 502.0 1268.3 506.0 1266.3 509.3 1263.7 511.3 1265.0 514.0 1263.0 519.3 1263.7 523.3 1266.3 522.0 1267.7 519.3 1270.3 515.3 1273.7 514.7 1275.7 516.7 1275.0 520.7 1273.7 522.0 1275.7 526.0 1277.0 532.7M591.0 566.0 592.3 568.7 596.3 571.3 598.3 575.3 599.0 579.3 599.7 583.3 598.3 587.3 600.3 590.7 600.3 593.3M600.3 593.3 595.7 594.0 590.3 593.3 587.7 594.7 585.0 593.3 582.3 592.7 574.3 594.0 569.0 592.7 563.7 591.6 558.3 592.7 553.0 594.7 547.7 594.3 545.0 595.3 542.3 597.3 537.0 598.0 531.7 600.0 526.3 602.3 521.7 604.7 517.0 607.3 513.0 610.7 511.7 613.3 506.3 613.7 502.3 616.0 500.3 619.3 500.3 624.7 499.7 630.0 499.0 635.3 499.7 640.7 498.3 644.7 495.7 648.7 491.7 652.7 486.3 653.3 479.7 655.3 473.0 658.0 466.3 660.7 461.0 663.3 455.7 666.7 449.0 672.0M600.3 593.3 600.3 616.7 609.0 616.7 629.0 616.7 634.3 619.3 637.7 621.3 641.0 618.7 645.0 617.3 649.0 616.4M649.0 616.4 657.0 618.7 659.7 622.0 664.3 626.7 673.0 629.7 683.7 630.3 687.7 633.3 691.7 637.3 695.7 639.6 697.0 644.0 703.7 645.7 717.0 645.3 722.3 646.0 729.0 648.9 737.0 652.4 747.7 656.0 748.3 659.3 750.3 662.3 754.3 661.7 761.0 662.7 765.7 660.9 765.7 664.7 764.3 670.0 762.3 672.7 757.7 677.3 759.7 682.0 763.7 688.7 766.3 694.0 767.0 700.7 767.7 702.7 769.7 704.7 767.7 708.7 765.0 712.7 765.0 716.7 767.7 718.7 769.7 720.7 769.0 726.0 768.3 732.7 765.0 735.3 764.3 739.3 765.0 743.3 763.7 746.0 764.3 750.0 766.3 756.7 766.3 760.7 766.3 763.3 768.3 766.0M869.7 566.0 870.3 571.3 866.3 574.7 863.7 578.0 859.7 583.3 860.3 590.0 858.3 595.3 854.3 599.3 851.0 602.0 847.9 606.0 847.7 608.7 849.0 612.0 854.3 614.7 859.0 619.3 859.7 623.3 858.3 627.3 859.7 632.7 862.3 635.3 867.0 636.0 869.7 640.7 875.7 647.3 881.0 652.0 887.7 660.0 893.0 665.3 899.0 669.7 905.0 669.7 906.3 672.7 905.7 678.0 901.7 680.7 900.3 683.3 902.3 688.7 905.0 690.7 913.0 690.7 917.7 690.0 918.3 683.3 917.0 679.3 917.7 672.7 917.0 667.3 916.3 662.0 914.3 659.3 910.3 657.3 907.0 653.3 907.0 651.3 911.7 648.7 914.3 646.0 914.3 642.0 915.0 638.7 914.3 635.3 915.7 631.3 921.0 626.7 925.0 624.7 929.0 626.0 931.0 628.0 932.3 626.0 941.0 624.0 945.0 622.0 949.0 619.3 949.7 615.3 950.3 611.3 951.7 595.3 952.3 586.0 953.0 579.3 951.7 572.7 950.3 566.0M1011.7 766.0 1017.0 758.7 1021.0 755.3 1026.3 749.3 1031.7 740.7 1038.3 733.3 1043.7 728.7 1049.0 725.3M1027.0 746.7 1022.3 745.3 1020.3 742.0 1021.0 739.3 1018.3 738.0 1015.7 739.3M1014.3 761.3 1016.3 758.7 1017.7 758.0 1015.7 760.9M1049.0 726.0 1057.0 720.7 1065.0 715.3 1073.0 711.3 1081.0 707.3 1089.0 703.3 1095.7 702.0 1102.3 699.3 1109.0 696.7 1115.7 694.0 1123.7 690.7 1130.3 688.0 1135.7 685.3 1141.0 684.7 1149.0 684.4 1154.3 682.7 1161.0 680.0 1165.0 678.0 1166.3 674.0 1171.7 669.3 1179.7 664.7 1190.3 659.3 1195.7 656.0 1202.3 652.0 1205.0 647.3 1210.3 644.7 1215.7 642.7 1217.7 638.0 1219.0 634.7 1222.3 631.3 1225.0 626.7 1229.0 619.3 1230.3 616.7 1226.3 616.4 1230.3 612.7 1235.7 607.3 1242.3 600.7 1246.3 596.7 1249.0 592.0M1215.7 642.7 1211.7 642.0 1209.0 638.0 1211.0 634.7 1215.7 633.3 1219.7 633.3M1097.7 694.0 1100.3 693.3 1101.0 696.0 1101.7 699.3M1276.9 530.0 1277.2 532.7 1276.4 535.3 1276.9 538.5 1273.7 540.1 1270.5 543.3 1267.3 545.5 1264.7 544.9 1264.1 542.8 1264.7 545.5 1267.3 546.0 1270.5 547.1 1272.1 549.2 1272.1 551.3 1269.5 550.3 1266.8 550.3 1265.2 551.3 1267.3 554.5 1268.4 556.7 1264.7 557.7 1262.0 558.8 1259.3 559.6 1256.7 559.9 1255.6 562.0 1256.1 564.1 1259.3 564.9 1260.4 563.1 1263.1 563.1 1265.2 564.7 1265.7 567.3 1264.7 570.5 1263.1 573.7 1260.9 576.9 1259.9 579.1 1259.6 582.3 1259.3 584.4 1257.7 586.0 1254.5 586.0 1253.5 587.6 1250.3 590.3 1248.1 592.9 1246.0 597.2 1243.3 600.4 1239.6 604.1 1236.4 607.3 1233.7 610.0M1233.0 610.7 1229.7 614.0 1226.3 616.7 1229.7 617.3 1227.0 622.0 1223.7 627.3 1220.3 632.0 1215.7 632.7 1213.0 634.0M1219.0 634.0 1217.7 640.7 1215.7 644.7 1213.0 645.3M1398.3 685.7 1401.7 685.7M768.3 766.0 771.0 768.7 769.0 771.3 768.3 775.3 766.3 777.3 760.3 780.0 759.7 783.3 761.7 788.7 763.0 792.7 761.7 796.7 755.7 797.3 749.0 800.0 748.3 806.0 747.7 811.3 750.3 812.7 755.7 812.7 759.0 818.0 758.3 823.3 757.7 828.7 756.3 832.7 753.7 835.3 753.0 842.0 757.0 842.7 757.0 850.0 757.0 854.7 761.0 855.3 763.7 854.0 765.7 854.7 766.3 859.3 770.3 861.3 769.7 867.3 769.0 872.7 768.3 876.7 765.0 878.0 763.7 880.7 761.0 882.0 760.3 886.0 759.0 890.7 758.3 894.0 755.7 897.3 751.7 902.0 749.0 907.3 746.3 911.3 742.3 912.0 737.0 912.7 734.3 916.7 734.3 924.7 735.7 931.3 735.7 936.7 733.0 940.7 729.0 945.3 725.7 950.0 727.7 952.7 730.3 958.0 732.3 960.0 730.3 960.7M1013.0 766.0 1006.3 771.3 999.7 777.3 996.3 780.7 993.7 783.3 991.7 788.0 989.0 792.7 989.7 796.7 986.3 798.0 982.3 796.7 981.0 794.0 979.7 792.0 978.3 792.7 980.3 800.7 981.0 804.0 977.0 804.7 973.0 804.7 971.0 802.0 971.0 798.7 969.0 799.3 966.3 801.3 963.7 804.7 961.0 806.0 958.3 807.3 954.3 809.3 950.3 812.0 945.0 816.0 941.0 820.0 939.7 822.7 935.7 827.3 931.7 831.3 927.7 835.3 923.7 840.0 918.3 845.3 913.0 849.3 907.7 854.0 903.7 857.7 899.7 859.3 895.7 862.7 890.3 866.7 888.3 865.3 887.0 862.0 883.7 859.3 879.7 858.0 877.0 855.3 873.7 851.3 871.0 849.3 868.3 850.0 867.7 852.0 870.3 851.3 873.0 853.3 877.0 858.0 881.0 860.0 883.7 863.3 883.0 867.3 880.3 868.7 882.3 872.7 882.3 879.3 884.3 886.0 881.0 887.3 876.3 886.0 877.7 888.7 881.0 890.7 879.7 894.0 877.7 899.3 875.0 900.7 875.7 903.3 879.7 904.7 879.0 907.3 877.0 910.7 881.0 911.3 885.0 914.0 887.7 916.7 890.3 920.7 895.0 921.3 897.7 923.3 899.0 927.3 899.0 931.3 901.0 934.0 905.0 936.7 905.7 939.3 903.7 942.0 902.3 944.7 899.0 947.3 901.7 950.0 903.7 952.7 902.3 955.3 905.0 958.0 906.3 962.0 906.6 966.0M449.0 979.2 455.7 979.2 464.0 979.5 469.0 981.7 474.0 983.8 480.7 982.5 485.7 984.2 492.3 987.2 499.0 990.0 505.7 990.8 513.2 993.3 510.7 997.5 509.8 1003.3 512.3 1008.3 517.3 1010.8 524.0 1010.8 526.5 1013.3 529.0 1016.7 532.3 1017.8M532.3 1017.8 540.7 1016.3 545.7 1015.8 552.3 1014.2 559.0 1014.5 565.7 1017.0 574.0 1020.0 582.3 1024.7 589.0 1024.7 595.7 1028.0 605.7 1026.2 615.7 1027.0 619.0 1025.3 629.0 1024.2 637.3 1025.8 644.0 1027.8 649.0 1026.7 656.5 1030.8M532.3 1017.8 524.0 1017.5 519.0 1020.0 512.3 1020.0 507.3 1025.0 506.5 1030.8 504.0 1035.0 499.0 1035.0 495.7 1037.5 489.0 1040.0 482.3 1042.0 477.3 1043.3 470.7 1042.8 464.0 1045.0 460.7 1048.3 456.5 1050.0 454.8 1055.0 450.7 1057.5 449.0 1058.3M656.5 1030.8 667.3 1025.0 685.7 1006.7 702.3 990.0 730.7 960.0M656.5 1030.8 662.3 1048.3 669.0 1068.3 674.0 1081.7 673.2 1090.0 672.3 1100.0 680.7 1110.0 684.0 1120.0 687.3 1126.7 694.0 1130.8 694.8 1140.0M905.7 966.0 907.7 970.0 911.7 975.3 915.0 979.3 915.7 983.3 915.7 991.3 917.7 996.7 919.0 1003.3 919.0 1010.0 918.3 1016.7 917.7 1023.3 917.7 1031.3 921.0 1034.0 923.7 1036.7 925.0 1032.7 925.7 1028.7 923.7 1023.3 925.0 1019.3 927.7 1016.7 927.0 1012.0 929.7 1012.0 931.0 1016.7 933.0 1016.7 932.3 1022.0 933.0 1028.7 933.0 1034.0 931.7 1039.3 930.3 1046.0 931.0 1054.0 932.3 1060.7 933.0 1065.3 934.3 1067.3 937.0 1066.0 935.7 1068.7 933.0 1072.7 930.3 1078.0 928.3 1083.3 929.0 1087.3 927.7 1092.7 926.3 1099.3 925.0 1106.0 924.3 1112.7 923.7 1118.0 922.3 1123.3 920.3 1130.0 919.7 1132.7 921.7 1130.7 923.0 1126.7 925.0 1126.0 927.7 1123.3 929.0 1121.3 931.0 1122.0 931.7 1126.0 931.0 1132.7 929.7 1139.3 929.7 1143.3 926.3 1148.7 922.3 1154.0 918.3 1158.0 914.3 1162.0 911.0 1166.0M929.0 975.1 930.6 978.0 929.7 986.0 927.7 992.0 925.7 991.3 926.1 983.3 927.7 976.7 929.0 975.1M1202.0 973.0 1203.3 971.3M1204.0 969.7 1205.3 970.3M694.1 1140.0 694.9 1145.0 699.1 1153.4 702.5 1161.8 702.8 1170.2 702.5 1190.4 702.5 1207.2 702.5 1224.0 701.1 1230.7 702.8 1240.8 700.0 1245.0 697.8 1251.7 698.3 1257.6 700.0 1262.6 707.5 1265.2 708.4 1274.4 706.7 1282.8 707.5 1291.2 710.9 1297.9 711.7 1308.0 711.7 1318.9 717.6 1319.4 726.0 1320.6 751.2 1320.1 761.3 1319.8M700.0 1262.6 694.1 1264.3 685.7 1260.1 675.6 1254.2 665.5 1248.4 661.3 1248.4 655.4 1252.6 647.0 1259.3 644.5 1266.0 637.8 1277.8 631.9 1284.5 625.2 1292.0 624.4 1299.6 624.9 1316.4 626.9 1317.3 631.1 1315.6 632.8 1318.9 636.1 1323.1 636.1 1329.9 638.6 1333.2 644.5 1338.3 647.9 1342.5 657.1 1345.8 670.6 1349.2 687.4 1350.0 701.6 1350.0 700.8 1348.3 700.5 1338.3 701.6 1326.5 703.3 1318.1 708.4 1317.8 711.7 1318.9M850.0 1195.4 841.9 1197.1 831.9 1200.5 818.4 1205.5 808.3 1210.6 798.3 1213.9 789.9 1217.3 784.8 1219.0 781.5 1220.6 774.7 1224.0 768.0 1228.2 761.3 1232.4 757.1 1236.6 753.7 1242.5 752.0 1248.4 751.2 1252.6 748.7 1255.9 744.5 1260.1 741.1 1263.5 737.8 1261.8 735.2 1263.5 736.4 1266.0 740.3 1265.2 742.8 1267.7 744.5 1272.7 747.8 1276.9 752.9 1279.4 757.9 1283.6 760.5 1282.0 761.3 1274.4 762.1 1269.4 765.5 1268.5 763.8 1266.8 761.3 1266.8 762.1 1265.2 767.2 1263.5 766.3 1267.7 764.7 1274.4 763.8 1284.5 763.8 1297.9 762.1 1308.0 761.6 1319.8 760.5 1328.2 758.8 1336.6 757.1 1339.9 754.6 1346.7 751.2 1356.7 747.8 1366.8 745.3 1375.2 743.6 1381.9 742.5 1392.0M913.3 1164.7 910.0 1167.7 910.3 1169.7 908.0 1172.0 904.7 1174.7 900.0 1176.7 894.0 1179.7 886.7 1183.3 876.7 1188.0 870.0 1189.3 863.3 1191.3 855.3 1194.3 850.0 1196.3" fill="none" stroke="#000" stroke-width="2.08" stroke-linejoin="round" stroke-linecap="round"/><circle cx="1245.4" cy="1027.9" r="2.9"/></g><rect x="449.5" y="166.4" width="963.90" height="1226.10" fill="none" stroke="#000" stroke-width="3.2" stroke-linejoin="bevel"/><rect x="1498.5" y="1262.12" width="61.0" height="130.38" fill="#5e4fa2"/><rect x="1498.5" y="1132.34" width="61.0" height="130.38" fill="#4a62a9"/><rect x="1498.5" y="1002.57" width="61.0" height="130.38" fill="#3a80b9"/><rect x="1498.5" y="872.79" width="61.0" height="130.38" fill="#62bea6"/><rect x="1498.5" y="743.01" width="61.0" height="130.38" fill="#bee5a0"/><rect x="1498.5" y="613.23" width="61.0" height="130.38" fill="#f2faae"/><rect x="1498.5" y="483.46" width="61.0" height="130.38" fill="#fdde8a"/><rect x="1498.5" y="353.68" width="61.0" height="130.38" fill="#f99c59"/><rect x="1498.5" y="223.90" width="61.0" height="130.38" fill="#d53e4f"/><path d="M1498.5 224.2L1529.0 165.0L1559.5 224.2Z" fill="#9e0142"/><path d="M1498.5 1392.2V224.2L1529.0 165.0L1559.5 224.2V1392.2Z" fill="none" stroke="#000" stroke-width="3.2" stroke-linejoin="miter"/><path d="M1559.5 1392.20H1575.6M1559.5 1262.42H1575.6M1559.5 1132.64H1575.6M1559.5 1002.87H1575.6M1559.5 873.09H1575.6M1559.5 743.31H1575.6M1559.5 613.53H1575.6M1559.5 483.76H1575.6M1559.5 353.98H1575.6M1559.5 224.20H1575.6" stroke="#000" stroke-width="3.2"/><g style="font-family:'Liberation Mono';filter:grayscale(1)" fill="#000"><text x="0" y="0" transform="translate(931.60,83.30) scale(1,1.105)" font-size="50.17" text-anchor="middle">rf(mm) 20250305<tspan dy="5.9">_</tspan><tspan dy="-5.9">00 to 20250305</tspan><tspan dy="5.9">_</tspan><tspan dy="-5.9">03</tspan></text><text x="0" y="0" transform="translate(946.10,141.10) scale(1,1.105)" font-size="50.17" text-anchor="middle">Simulation Time: 20250303<tspan dy="5.9">_</tspan><tspan dy="-5.9">12</tspan></text><text x="0" y="0" transform="translate(429.00,240.80) scale(1,1.105)" font-size="41.67" text-anchor="end">10°S</text><text x="0" y="0" transform="translate(429.00,402.88) scale(1,1.105)" font-size="41.67" text-anchor="end">12.5°S</text><text x="0" y="0" transform="translate(429.00,564.95) scale(1,1.105)" font-size="41.67" text-anchor="end">15°S</text><text x="0" y="0" transform="translate(429.00,727.02) scale(1,1.105)" font-size="41.67" text-anchor="end">17.5°S</text><text x="0" y="0" transform="translate(429.00,889.10) scale(1,1.105)" font-size="41.67" text-anchor="end">20°S</text><text x="0" y="0" transform="translate(429.00,1051.17) scale(1,1.105)" font-size="41.67" text-anchor="end">22.5°S</text><text x="0" y="0" transform="translate(429.00,1213.25) scale(1,1.105)" font-size="41.67" text-anchor="end">25°S</text><text x="0" y="0" transform="translate(429.00,1375.32) scale(1,1.105)" font-size="41.67" text-anchor="end">27.5°S</text><text x="0" y="0" transform="translate(574.55,1446.00) scale(1,1.105)" font-size="41.67" text-anchor="middle">30°E</text><text x="0" y="0" transform="translate(704.23,1446.00) scale(1,1.105)" font-size="41.67" text-anchor="middle">32°E</text><text x="0" y="0" transform="translate(833.91,1446.00) scale(1,1.105)" font-size="41.67" text-anchor="middle">34°E</text><text x="0" y="0" transform="translate(963.59,1446.00) scale(1,1.105)" font-size="41.67" text-anchor="middle">36°E</text><text x="0" y="0" transform="translate(1093.27,1446.00) scale(1,1.105)" font-size="41.67" text-anchor="middle">38°E</text><text x="0" y="0" transform="translate(1222.95,1446.00) scale(1,1.105)" font-size="41.67" text-anchor="middle">40°E</text><text x="0" y="0" transform="translate(1352.63,1446.00) scale(1,1.105)" font-size="41.67" text-anchor="middle">42°E</text><text x="0" y="0" transform="translate(1591.00,1408.90) scale(1,1.105)" font-size="41.67" text-anchor="start">2</text><text x="0" y="0" transform="translate(1591.00,1279.12) scale(1,1.105)" font-size="41.67" text-anchor="start">5</text><text x="0" y="0" transform="translate(1591.00,1149.34) scale(1,1.105)" font-size="41.67" text-anchor="start">10</text><text x="0" y="0" transform="translate(1591.00,1019.57) scale(1,1.105)" font-size="41.67" text-anchor="start">20</text><text x="0" y="0" transform="translate(1591.00,889.79) scale(1,1.105)" font-size="41.67" text-anchor="start">40</text><text x="0" y="0" transform="translate(1591.00,760.01) scale(1,1.105)" font-size="41.67" text-anchor="start">60</text><text x="0" y="0" transform="translate(1591.00,630.23) scale(1,1.105)" font-size="41.67" text-anchor="start">80</text><text x="0" y="0" transform="translate(1591.00,500.46) scale(1,1.105)" font-size="41.67" text-anchor="start">100</text><text x="0" y="0" transform="translate(1591.00,370.68) scale(1,1.105)" font-size="41.67" text-anchor="start">120</text><text x="0" y="0" transform="translate(1591.00,240.90) scale(1,1.105)" font-size="41.67" text-anchor="start">150</text></g>
</svg></body></html>
